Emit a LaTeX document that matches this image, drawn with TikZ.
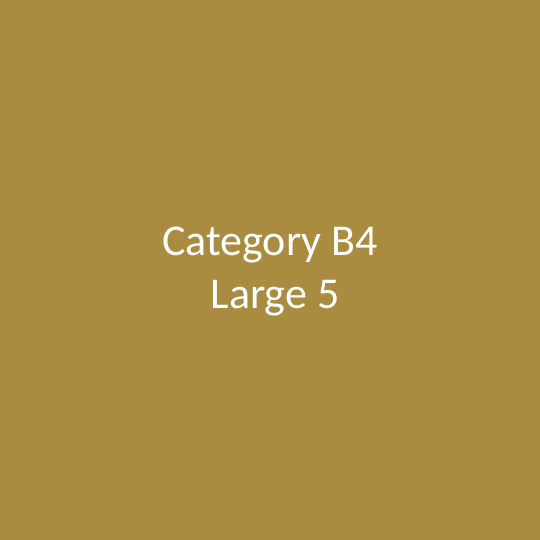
\documentclass[tikz,border=0pt]{standalone}
\usepackage{fontspec}
\setmainfont{Carlito}
\definecolor{tilegold}{HTML}{A98C40}
\begin{document}
\begin{tikzpicture}[
        tile/.style={fill=tilegold, draw=none},
        tile_label/.style={text=white, align=center, font=\fontsize{44bp}{53bp}\selectfont}
    ]

        % Background tile
        \path[tile] (0,0) rectangle (540bp,540bp);
        \useasboundingbox (0,0) rectangle (540bp,540bp);

        % Label
        \node[tile_label] (tile_text) at (270bp,268bp) {Category B4\\\hspace*{10bp}Large 5};

    \end{tikzpicture}
\end{document}
